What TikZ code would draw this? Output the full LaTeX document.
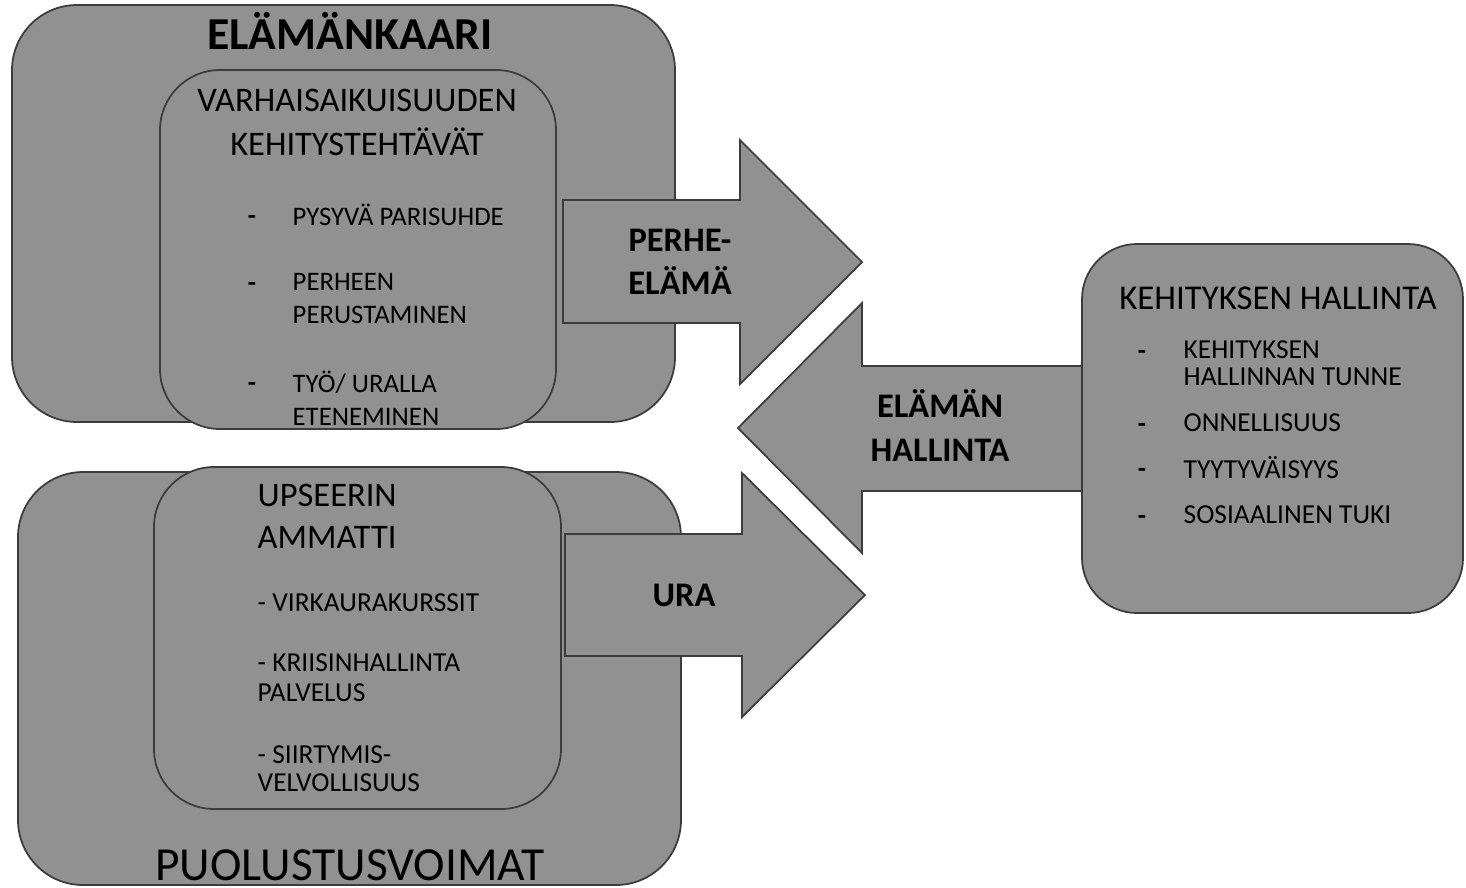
\documentclass[tikz,border=0pt]{standalone}
\usepackage{fontspec}
\setmainfont{Carlito}
\usetikzlibrary{fit}

\definecolor{panelgray}{RGB}{145,145,145}
\definecolor{edgegray}{RGB}{60,60,60}

\begin{document}
\begin{tikzpicture}[
  x=0.01cm, y=-0.01cm,
  panel/.style={draw=edgegray, fill=panelgray, line width=0.5pt, inner sep=0pt},
  bigarrow/.style={draw=edgegray, fill=panelgray, line width=0.5pt},
  item/.style={anchor=west, inner sep=0pt, align=left, font=\fontsize{7.6}{9.4}\selectfont},
  hyphen/.style={anchor=base, inner sep=0pt, font=\bfseries\fontsize{7.6}{9.4}\selectfont},
  arrowtext/.style={inner sep=0pt, align=center, font=\bfseries\fontsize{9.8}{12.2}\selectfont}
]
\useasboundingbox[fill=white] (0,0) rectangle (1466,887);

% Elamankaari
\node[panel, rounded corners=0.65cm, fit={(12,5) (675,422)}] (lifecourse) {};
\node[panel, rounded corners=0.6cm, fit={(160,70) (556,429)}] (tasks) {};
\node[anchor=base, inner sep=0pt, font=\bfseries\fontsize{13}{15}\selectfont] (lifetitle) at (350,49) {ELÄMÄNKAARI};
\node[inner sep=0pt, align=center, font=\fontsize{9.8}{12.5}\selectfont] (taskstitle) at (357,122) {VARHAISAIKUISUUDEN\\KEHITYSTEHTÄVÄT};
\node[hyphen] (d1) at (252,224) {-};
\node[item] (couple) at (292,215) {PYSYVÄ PARISUHDE};
\node[hyphen] (d2) at (252,291) {-};
\node[item] (family) at (292,298.5) {PERHEEN\\PERUSTAMINEN};
\node[hyphen] (d3) at (252,391) {-};
\node[item] (work) at (292,398.5) {TYÖ/ URALLA\\ETENEMINEN};

% Puolustusvoimat
\node[panel, rounded corners=0.65cm, fit={(18,472) (681,885)}] (forces) {};
\node[panel, rounded corners=0.6cm, fit={(154,467) (561,809)}] (officer) {};
\node[inner sep=0pt, align=left, anchor=west, font=\fontsize{9.8}{12}\selectfont] (officertitle) at (257,516) {UPSEERIN\\AMMATTI};
\node[item, font=\fontsize{7.8}{8.5}\selectfont] (courses) at (257,603) {- VIRKAURAKURSSIT};
\node[item, font=\fontsize{7.8}{8.5}\selectfont] (crisis) at (257,678) {- KRIISINHALLINTA\\PALVELUS};
\node[item, font=\fontsize{7.8}{7.8}\selectfont] (transfer) at (257,768.5) {- SIIRTYMIS-\\VELVOLLISUUS};
\node[inner sep=0pt, font=\fontsize{13.5}{15}\selectfont] (forcestitle) at (350,865) {PUOLUSTUSVOIMAT};

% nuolet
\draw[bigarrow] (563,200) -- (740,200) -- (740,140) -- (862,262) -- (740,384) -- (740,323) -- (563,323) -- cycle;
\node[arrowtext] (familylife) at (680,262) {PERHE-\\ELÄMÄ};

\draw[bigarrow] (565,534) -- (742,534) -- (742,473) -- (865,595) -- (742,717) -- (742,656) -- (565,656) -- cycle;
\node[arrowtext] (career) at (684,595) {URA};

\draw[bigarrow] (1082,366) -- (862,366) -- (862,303) -- (738,428) -- (862,553) -- (862,491) -- (1082,491) -- cycle;
\node[arrowtext, font=\bfseries\fontsize{9.8}{12.5}\selectfont] (lifecontrol) at (940,425) {ELÄMÄN\\HALLINTA};

% Kehityksen hallinta
\node[panel, rounded corners=0.55cm, fit={(1082,244) (1463,613)}] (control) {};
\node[inner sep=0pt, font=\fontsize{9.9}{12}\selectfont] (controltitle) at (1278,298) {KEHITYKSEN HALLINTA};
\node[hyphen] (e1) at (1142,359) {-};
\node[item, font=\fontsize{7.8}{7.7}\selectfont] (sense) at (1183,363.5) {KEHITYKSEN\\HALLINNAN TUNNE};
\node[hyphen] (e2) at (1142,432) {-};
\node[item, font=\fontsize{7.8}{7.7}\selectfont] (happy) at (1183,423) {ONNELLISUUS};
\node[hyphen] (e3) at (1142,477) {-};
\node[item, font=\fontsize{7.8}{7.7}\selectfont] (content) at (1183,468) {TYYTYVÄISYYS};
\node[hyphen] (e4) at (1142,524) {-};
\node[item, font=\fontsize{7.8}{7.7}\selectfont] (support) at (1183,515) {SOSIAALINEN TUKI};
\end{tikzpicture}
\end{document}
